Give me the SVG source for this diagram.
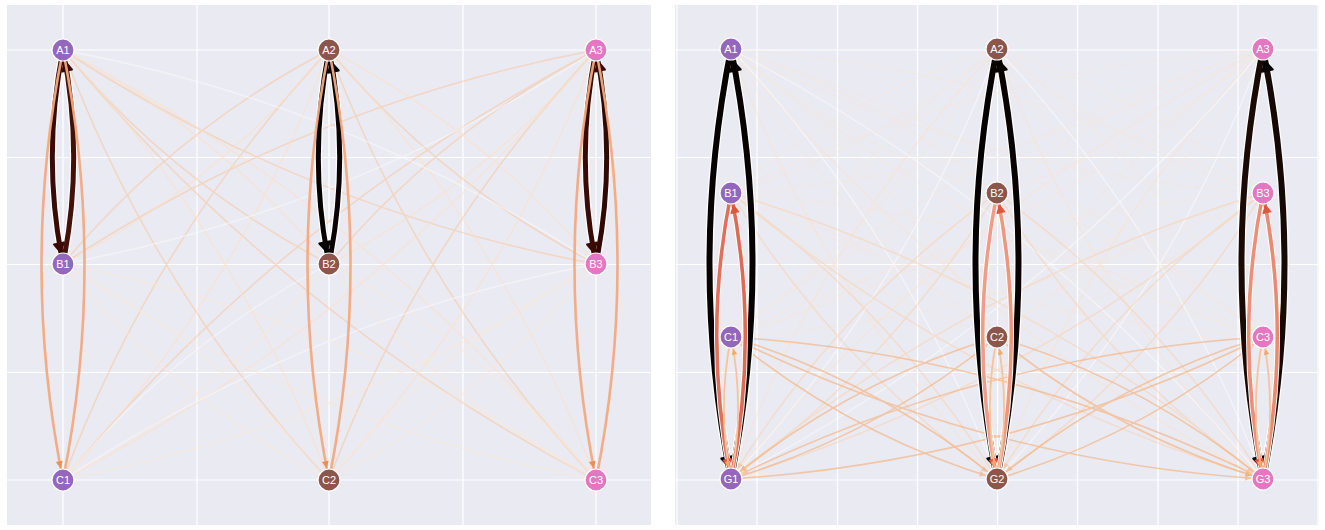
<svg xmlns="http://www.w3.org/2000/svg" width="1325" height="530" viewBox="0 0 1325 530">
<style>
.bg{fill:#eaeaf2}
.grid{stroke:#fff;stroke-width:1.2;fill:none}
.e{fill:none;stroke-linecap:round}
.halo{fill:none;stroke:#fff;stroke-linecap:round}
.xa{stroke:#fbbf8c;stroke-width:1.5;opacity:.45}
.xb{stroke:#fde0c6;stroke-width:1.5;opacity:.55}
.xc{stroke:#fde9d6;stroke-width:1.4;opacity:.5}
.xw{stroke:#ffffff;stroke-width:1.4;opacity:.45}
.rcg{stroke:#f6ad72;stroke-width:1.6;opacity:.6}
.rbg{stroke:#fbcfa5;stroke-width:1.4;opacity:.5}
.rag{stroke:#fde3c9;stroke-width:1.3;opacity:.5}
.rga{stroke:#ffffff;stroke-width:1.3;opacity:.5}
.rf{stroke:#fde6cf;stroke-width:1.2;opacity:.3}
.n circle{stroke:#fff;stroke-width:1.2}
.n text{font-family:"Liberation Sans",Arial,sans-serif;font-size:11px;fill:#fff;text-anchor:middle;dominant-baseline:central}
.p1{fill:#9467bd}.p2{fill:#8c564b}.p3{fill:#e377c2}
</style>
<defs>
<marker id="mk-maroon" markerUnits="userSpaceOnUse" viewBox="-30 -8 30 16" markerWidth="30" markerHeight="16" refX="0" refY="0" orient="auto" overflow="visible"><polygon points="-21,-5 -12,0 -21,5" fill="#3a0b05" stroke="#3a0b05" stroke-width="2" stroke-linejoin="round"/></marker>
<marker id="mk-black" markerUnits="userSpaceOnUse" viewBox="-30 -8 30 16" markerWidth="30" markerHeight="16" refX="0" refY="0" orient="auto" overflow="visible"><polygon points="-22,-5.5 -13,0 -22,5.5" fill="#080303" stroke="#080303" stroke-width="2" stroke-linejoin="round"/></marker>
<marker id="mk-orange" markerUnits="userSpaceOnUse" viewBox="-30 -8 30 16" markerWidth="30" markerHeight="16" refX="0" refY="0" orient="auto" overflow="visible"><polygon points="-19,-3.5 -12,0 -19,3.5" fill="#f2874a"/></marker>
<marker id="mk-salmon" markerUnits="userSpaceOnUse" viewBox="-30 -8 30 16" markerWidth="30" markerHeight="16" refX="0" refY="0" orient="auto" overflow="visible"><polygon points="-20,-4 -12,0 -20,4" fill="#e2553c" stroke="#e2553c" stroke-width="1" stroke-linejoin="round"/></marker>
<marker id="mk-peach" markerUnits="userSpaceOnUse" viewBox="-30 -8 30 16" markerWidth="30" markerHeight="16" refX="0" refY="0" orient="auto" overflow="visible"><polygon points="-18,-2.8 -12,0 -18,2.8" fill="#f7a868"/></marker>
</defs>

<rect width="1325" height="530" fill="#fff"/>
<rect class="bg" x="7" y="5" width="644" height="520"/>
<rect class="bg" x="675" y="5" width="644" height="520"/>

<g id="grid-left" class="grid">
<path d="M63,5V525M197,5V525M329,5V525M463,5V525M596,5V525"/>
<path d="M7,50H651M7,157.5H651M7,264.5H651M7,372.5H651M7,480H651"/>
</g>
<g id="grid-right" class="grid">
<path d="M677,5V525M757,5V525M837.5,5V525M917.5,5V525M997.5,5V525M1077.5,5V525M1158,5V525M1238,5V525M1318,5V525"/>
<path d="M675,50H1319M675,157.5H1319M675,264.5H1319M675,372.5H1319M675,480H1319"/>
</g>

<g id="connectors-left">
<g class="e xa">
<path d="M63,50 Q174.6,183.6 329,264"/>
<path d="M63,50 Q308.1,210.3 596,264"/>
<path d="M329,50 Q174.6,130.4 63,264"/>
<path d="M329,50 Q441.1,183.7 596,264"/>
<path d="M596,50 Q308.1,103.7 63,264"/>
<path d="M596,50 Q441.1,130.3 329,264"/>
<path d="M63,50 Q153,291.6 329,480"/>
<path d="M63,50 Q286.5,318.3 596,480"/>
<path d="M329,50 Q153,238.4 63,480"/>
<path d="M329,50 Q419.5,291.7 596,480"/>
<path d="M596,50 Q286.5,211.7 63,480"/>
<path d="M596,50 Q419.5,238.3 329,480"/>
</g>
<g class="e xb">
<path d="M63,264 Q217.4,183.6 329,50"/>
<path d="M329,264 Q217.4,130.4 63,50"/>
<path d="M329,264 Q483.9,183.7 596,50"/>
<path d="M596,264 Q483.9,130.3 329,50"/>
<path d="M63,480 Q239,291.6 329,50"/>
<path d="M63,480 Q372.5,318.3 596,50"/>
<path d="M329,480 Q239,238.4 63,50"/>
<path d="M329,480 Q505.5,291.7 596,50"/>
<path d="M596,480 Q372.5,211.7 63,50"/>
<path d="M596,480 Q505.5,238.3 329,50"/>
</g>
<g class="e xw">
<path d="M63,264 Q350.9,210.3 596,50"/>
<path d="M596,264 Q350.9,103.7 63,50"/>
<path d="M329,264 Q174.4,345.4 63,480"/>
<path d="M596,264 Q307.9,318.7 63,480"/>
</g>
<g class="e xc">
<path d="M63,264 Q174.4,398.6 329,480"/>
<path d="M63,264 Q307.9,425.3 596,480"/>
<path d="M329,264 Q440.9,398.7 596,480"/>
<path d="M596,264 Q440.9,345.3 329,480"/>
<path d="M63,480 Q217.6,398.6 329,264"/>
<path d="M63,480 Q351.1,425.3 596,264"/>
<path d="M329,480 Q217.6,345.4 63,264"/>
<path d="M329,480 Q484.1,398.7 596,264"/>
<path d="M596,480 Q351.1,318.7 63,264"/>
<path d="M596,480 Q484.1,345.3 329,264"/>
</g>
<g class="halo" stroke-width="7.5">
<path d="M63,50 Q41.6,157 63,264"/><path d="M63,264 Q84.4,157 63,50"/>
<path d="M329,50 Q307.6,157 329,264"/><path d="M329,264 Q350.4,157 329,50"/>
<path d="M596,50 Q574.6,157 596,264"/><path d="M596,264 Q617.4,157 596,50"/>
</g>
<g class="e" stroke-width="5">
<path d="M63,50 Q41.6,157 63,264" stroke="#3a0b06" marker-end="url(#mk-maroon)"/>
<path d="M63,264 Q84.4,157 63,50" stroke="#441008" marker-end="url(#mk-maroon)"/>
<path d="M329,50 Q307.6,157 329,264" stroke="#070202" marker-end="url(#mk-black)"/>
<path d="M329,264 Q350.4,157 329,50" stroke="#0a0302" marker-end="url(#mk-black)"/>
<path d="M596,50 Q574.6,157 596,264" stroke="#3a0b06" marker-end="url(#mk-maroon)"/>
<path d="M596,264 Q617.4,157 596,50" stroke="#300905" marker-end="url(#mk-maroon)"/>
</g>
<g class="e" stroke="#f4a97f" stroke-width="2.6" opacity="0.95">
<path d="M63,50 Q20,265 63,480" marker-end="url(#mk-orange)"/>
<path d="M63,480 Q106,265 63,50"/>
<path d="M329,50 Q286,265 329,480" marker-end="url(#mk-orange)"/>
<path d="M329,480 Q372,265 329,50"/>
<path d="M596,50 Q553,265 596,480" marker-end="url(#mk-orange)"/>
<path d="M596,480 Q639,265 596,50"/>
</g>
</g>

<g id="connectors-right">
<g class="e rf">
<path d="M731,49 Q849.6,147.6 997,193"/>
<path d="M731,49 Q982.6,174.2 1263,193"/>
<path d="M997,49 Q849.6,94.4 731,193"/>
<path d="M997,49 Q1115.6,147.6 1263,193"/>
<path d="M1263,49 Q982.6,67.8 731,193"/>
<path d="M1263,49 Q1115.6,94.4 997,193"/>
<path d="M731,193 Q878.4,147.6 997,49"/>
<path d="M731,193 Q1011.4,174.2 1263,49"/>
<path d="M997,193 Q878.4,94.4 731,49"/>
<path d="M997,193 Q1144.4,147.6 1263,49"/>
<path d="M1263,193 Q1011.4,67.8 731,49"/>
<path d="M1263,193 Q1144.4,94.4 997,49"/>
<path d="M731,49 Q835.2,219.6 997,337"/>
<path d="M731,49 Q968.2,246.2 1263,337"/>
<path d="M997,49 Q835.2,166.4 731,337"/>
<path d="M997,49 Q1101.2,219.6 1263,337"/>
<path d="M1263,49 Q968.2,139.8 731,337"/>
<path d="M1263,49 Q1101.2,166.4 997,337"/>
<path d="M731,337 Q892.8,219.6 997,49"/>
<path d="M731,337 Q1025.8,246.2 1263,49"/>
<path d="M997,337 Q892.8,166.4 731,49"/>
<path d="M997,337 Q1158.8,219.6 1263,49"/>
<path d="M1263,337 Q1025.8,139.8 731,49"/>
<path d="M1263,337 Q1158.8,166.4 997,49"/>
<path d="M731,193 Q849.6,291.6 997,337"/>
<path d="M731,193 Q982.6,318.2 1263,337"/>
<path d="M997,193 Q849.6,238.4 731,337"/>
<path d="M997,193 Q1115.6,291.6 1263,337"/>
<path d="M1263,193 Q982.6,211.8 731,337"/>
<path d="M1263,193 Q1115.6,238.4 997,337"/>
<path d="M731,337 Q878.4,291.6 997,193"/>
<path d="M731,337 Q1011.4,318.2 1263,193"/>
<path d="M997,337 Q878.4,238.4 731,193"/>
<path d="M997,337 Q1144.4,291.6 1263,193"/>
<path d="M1263,337 Q1011.4,211.8 731,193"/>
<path d="M1263,337 Q1144.4,238.4 997,193"/>
</g>
<g class="e rag">
<path d="M731,49 Q821,290.6 997,479"/>
<path d="M731,49 Q954,317.2 1263,479"/>
<path d="M997,49 Q821,237.4 731,479"/>
<path d="M997,49 Q1087,290.6 1263,479"/>
<path d="M1263,49 Q954,210.8 731,479"/>
<path d="M1263,49 Q1087,237.4 997,479"/>
</g>
<g class="e rga">
<path d="M731,479 Q907,290.6 997,49"/>
<path d="M731,479 Q1040,317.2 1263,49"/>
<path d="M997,479 Q907,237.4 731,49"/>
<path d="M997,479 Q1173,290.6 1263,49"/>
<path d="M1263,479 Q1040,210.8 731,49"/>
<path d="M1263,479 Q1173,237.4 997,49"/>
</g>
<g class="e rbg">
<path d="M731,193 Q835.4,362.6 997,479" marker-end="url(#mk-peach)"/>
<path d="M731,193 Q968.4,389.2 1263,479" marker-end="url(#mk-peach)"/>
<path d="M997,193 Q835.4,309.4 731,479" marker-end="url(#mk-peach)"/>
<path d="M997,193 Q1101.4,362.6 1263,479" marker-end="url(#mk-peach)"/>
<path d="M1263,193 Q968.4,282.8 731,479" marker-end="url(#mk-peach)"/>
<path d="M1263,193 Q1101.4,309.4 997,479" marker-end="url(#mk-peach)"/>
<path d="M731,479 Q892.6,362.6 997,193"/>
<path d="M731,479 Q1025.6,389.2 1263,193"/>
<path d="M997,479 Q892.6,309.4 731,193"/>
<path d="M997,479 Q1158.6,362.6 1263,193"/>
<path d="M1263,479 Q1025.6,282.8 731,193"/>
<path d="M1263,479 Q1158.6,309.4 997,193"/>
</g>
<g class="e rcg">
<path d="M731,337 Q849.8,434.6 997,479" marker-end="url(#mk-peach)"/>
<path d="M731,337 Q982.8,461.2 1263,479" marker-end="url(#mk-peach)"/>
<path d="M997,337 Q849.8,381.4 731,479" marker-end="url(#mk-peach)"/>
<path d="M997,337 Q1115.8,434.6 1263,479" marker-end="url(#mk-peach)"/>
<path d="M1263,337 Q982.8,354.8 731,479" marker-end="url(#mk-peach)"/>
<path d="M1263,337 Q1115.8,381.4 997,479" marker-end="url(#mk-peach)"/>
<path d="M731,479 Q878.2,434.6 997,337" marker-end="url(#mk-peach)"/>
<path d="M731,479 Q1011.2,461.2 1263,337" marker-end="url(#mk-peach)"/>
<path d="M997,479 Q878.2,381.4 731,337" marker-end="url(#mk-peach)"/>
<path d="M997,479 Q1144.2,434.6 1263,337" marker-end="url(#mk-peach)"/>
<path d="M1263,479 Q1011.2,354.8 731,337" marker-end="url(#mk-peach)"/>
<path d="M1263,479 Q1144.2,381.4 997,337" marker-end="url(#mk-peach)"/>
</g>
<g class="halo" stroke-width="8.5">
<path d="M731,49 Q688,264 731,479"/><path d="M731,479 Q774,264 731,49"/>
<path d="M997,49 Q954,264 997,479"/><path d="M997,479 Q1040,264 997,49"/>
<path d="M1263,49 Q1220,264 1263,479"/><path d="M1263,479 Q1306,264 1263,49"/>
</g>
<g class="e" stroke-width="6">
<path d="M731,49 Q688,264 731,479" stroke="#080303" marker-end="url(#mk-black)"/>
<path d="M731,479 Q774,264 731,49" stroke="#080303" marker-end="url(#mk-black)"/>
<path d="M997,49 Q954,264 997,479" stroke="#070202" marker-end="url(#mk-black)"/>
<path d="M997,479 Q1040,264 997,49" stroke="#0a0303" marker-end="url(#mk-black)"/>
<path d="M1263,49 Q1220,264 1263,479" stroke="#1a0905" marker-end="url(#mk-black)"/>
<path d="M1263,479 Q1306,264 1263,49" stroke="#160805" marker-end="url(#mk-black)"/>
</g>
<g class="halo" stroke-width="5.5">
<path d="M731,193 Q702.4,336 731,479"/><path d="M731,479 Q759.6,336 731,193"/>
<path d="M997,193 Q968.4,336 997,479"/><path d="M997,479 Q1025.6,336 997,193"/>
<path d="M1263,193 Q1234.4,336 1263,479"/><path d="M1263,479 Q1291.6,336 1263,193"/>
</g>
<g class="e" stroke-width="3.6">
<path d="M731,193 Q702.4,336 731,479" stroke="#e0705c" marker-end="url(#mk-salmon)"/>
<path d="M731,479 Q759.6,336 731,193" stroke="#df6a55" marker-end="url(#mk-salmon)"/>
<path d="M997,193 Q968.4,336 997,479" stroke="#ef9d86" marker-end="url(#mk-salmon)"/>
<path d="M997,479 Q1025.6,336 997,193" stroke="#ee977f" marker-end="url(#mk-salmon)"/>
<path d="M1263,193 Q1234.4,336 1263,479" stroke="#eb8f76" marker-end="url(#mk-salmon)"/>
<path d="M1263,479 Q1291.6,336 1263,193" stroke="#ea8a70" marker-end="url(#mk-salmon)"/>
</g>
<g class="e" stroke="#f9c39a" stroke-width="1.8">
<path d="M731,337 Q716.8,408 731,479" marker-end="url(#mk-peach)"/>
<path d="M731,479 Q745.2,408 731,337" marker-end="url(#mk-peach)"/>
<path d="M997,337 Q982.8,408 997,479" marker-end="url(#mk-peach)"/>
<path d="M997,479 Q1011.2,408 997,337" marker-end="url(#mk-peach)"/>
<path d="M1263,337 Q1248.8,408 1263,479" marker-end="url(#mk-peach)"/>
<path d="M1263,479 Q1277.2,408 1263,337" marker-end="url(#mk-peach)"/>
</g>
</g>

<g id="node-L-A1" class="n"><circle class="p1" cx="63" cy="50" r="11"/><text x="63" y="50">A1</text></g>
<g id="node-L-B1" class="n"><circle class="p1" cx="63" cy="264" r="11"/><text x="63" y="264">B1</text></g>
<g id="node-L-C1" class="n"><circle class="p1" cx="63" cy="480" r="11"/><text x="63" y="480">C1</text></g>
<g id="node-L-A2" class="n"><circle class="p2" cx="329" cy="50" r="11"/><text x="329" y="50">A2</text></g>
<g id="node-L-B2" class="n"><circle class="p2" cx="329" cy="264" r="11"/><text x="329" y="264">B2</text></g>
<g id="node-L-C2" class="n"><circle class="p2" cx="329" cy="480" r="11"/><text x="329" y="480">C2</text></g>
<g id="node-L-A3" class="n"><circle class="p3" cx="596" cy="50" r="11"/><text x="596" y="50">A3</text></g>
<g id="node-L-B3" class="n"><circle class="p3" cx="596" cy="264" r="11"/><text x="596" y="264">B3</text></g>
<g id="node-L-C3" class="n"><circle class="p3" cx="596" cy="480" r="11"/><text x="596" y="480">C3</text></g>

<g id="node-R-A1" class="n"><circle class="p1" cx="731" cy="49" r="11"/><text x="731" y="49">A1</text></g>
<g id="node-R-B1" class="n"><circle class="p1" cx="731" cy="193" r="11"/><text x="731" y="193">B1</text></g>
<g id="node-R-C1" class="n"><circle class="p1" cx="731" cy="337" r="11"/><text x="731" y="337">C1</text></g>
<g id="node-R-G1" class="n"><circle class="p1" cx="731" cy="479" r="11"/><text x="731" y="479">G1</text></g>
<g id="node-R-A2" class="n"><circle class="p2" cx="997" cy="49" r="11"/><text x="997" y="49">A2</text></g>
<g id="node-R-B2" class="n"><circle class="p2" cx="997" cy="193" r="11"/><text x="997" y="193">B2</text></g>
<g id="node-R-C2" class="n"><circle class="p2" cx="997" cy="337" r="11"/><text x="997" y="337">C2</text></g>
<g id="node-R-G2" class="n"><circle class="p2" cx="997" cy="479" r="11"/><text x="997" y="479">G2</text></g>
<g id="node-R-A3" class="n"><circle class="p3" cx="1263" cy="49" r="11"/><text x="1263" y="49">A3</text></g>
<g id="node-R-B3" class="n"><circle class="p3" cx="1263" cy="193" r="11"/><text x="1263" y="193">B3</text></g>
<g id="node-R-C3" class="n"><circle class="p3" cx="1263" cy="337" r="11"/><text x="1263" y="337">C3</text></g>
<g id="node-R-G3" class="n"><circle class="p3" cx="1263" cy="479" r="11"/><text x="1263" y="479">G3</text></g>
</svg>
